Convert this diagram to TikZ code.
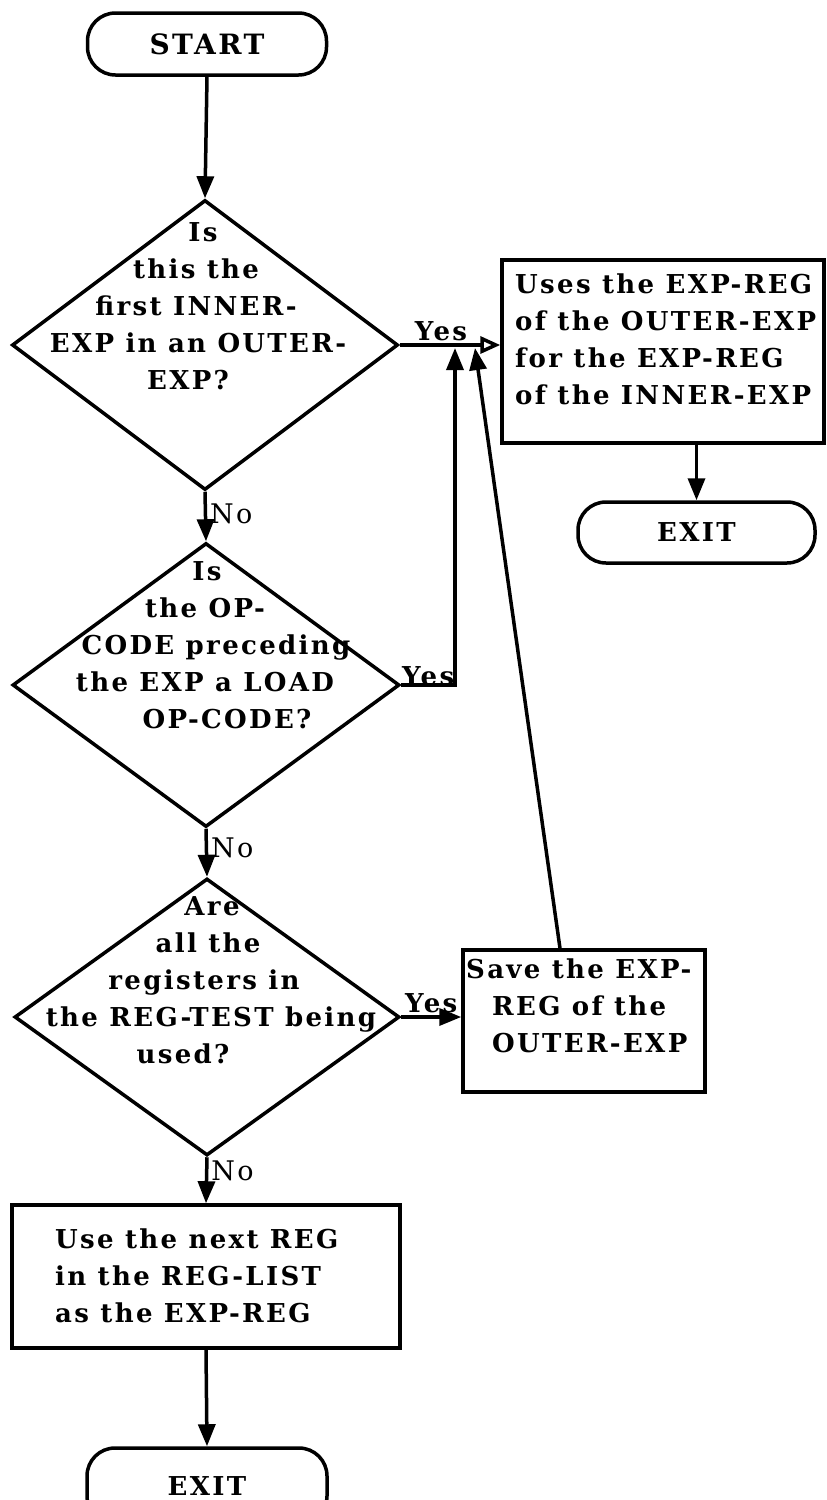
\documentclass[tikz,border=0pt]{standalone}
\usepackage{fontspec}
\setmainfont{DejaVu Serif}[LetterSpace=9]
\usetikzlibrary{arrows.meta,shapes.geometric}
\newcommand{\Rs}[1]{\hspace*{#1pt}}
\begin{document}
\begin{tikzpicture}[x=1pt,y=-1pt,
  every node/.style={font=\fontsize{26}{37}\selectfont\bfseries},
  arr/.style={line width=3.5pt,-{Triangle[length=22pt,width=17pt]}},
  openarr/.style={line width=3.5pt,-{Triangle[open,length=20pt,width=17pt]}},
  term/.style={draw,line width=3.5pt,rounded corners=28pt,inner sep=0pt},
  proc/.style={draw,line width=3.5pt,inner sep=0pt},
  dia/.style={draw,line width=3.5pt,diamond,inner sep=0pt},
  txt/.style={align=center,inner sep=0pt},
  ltxt/.style={align=left,inner sep=0pt,anchor=north west},
  lbl/.style={inner sep=2pt},
  nolbl/.style={inner sep=3pt,font=\fontsize{27}{37}\selectfont\mdseries}
]
\useasboundingbox (0,0) rectangle (827,1500);
\clip (0,0) rectangle (827,1500);

% nodes
\node[term,minimum width=239pt,minimum height=62pt,font=\fontsize{28}{37}\selectfont\bfseries] (start) at (207,44) {START};

\node[dia,minimum width=386pt,minimum height=290pt] (d1) at (205,345) {};
\node[txt] (t1) at (196,306) {\Rs{14}Is\\this the\Rs{16}\\first INNER-\Rs{6}\\\Rs{4}EXP in an OUTER-\\EXP?\Rs{16}};

\node[dia,minimum width=387pt,minimum height=284pt] (d2) at (206,685) {};
\node[txt] (t2) at (205,645) {\Rs{4}Is\\the OP-\Rs{34}\\\Rs{22}CODE preceding\\the EXP a LOAD\Rs{46}\\\Rs{44}OP-CODE?};

\node[dia,minimum width=385pt,minimum height=277pt] (d3) at (207,1017) {};
\node[txt] (t3) at (204,980) {\Rs{16}Are\\\Rs{8}all the\\registers in\Rs{24}\\\Rs{14}the REG-TEST being\\used?\Rs{42}};

\node[proc,minimum width=322pt,minimum height=183pt] (box1) at (663,351.5) {};
\node[ltxt] (bt1) at (515,274) {Uses the EXP-REG\\of the OUTER-EXP\\for the EXP-REG\\of the INNER-EXP};

\node[term,minimum width=237pt,minimum height=61pt] (exit1) at (696.5,532.5) {EXIT};

\node[proc,minimum width=242pt,minimum height=142pt] (save) at (584,1021) {};
\node[ltxt] (st) at (466,959) {Save the EXP-\\\Rs{26}REG of the\\\Rs{26}OUTER-EXP};

\node[proc,minimum width=388pt,minimum height=143pt] (box3) at (206,1276.5) {};
\node[ltxt] (b3t) at (55,1229) {Use the next REG\\in the REG-LIST\\as the EXP-REG};

\node[term,minimum width=240pt,minimum height=76pt] (exit2) at (207,1486) {EXIT};

\coordinate (j2) at (455,348);
\coordinate (j3) at (475,348);

% connectors
\draw[arr] (start.south) -- (d1.north);
\draw[openarr] (d1.east) -- (d1.east -| box1.west) node[lbl,pos=0.41,above] {Yes};
\draw[arr] (d1.south) -- (d2.north) node[nolbl,pos=0.45,right] {No};
\draw[arr] (d2.east) -| (j2) node[lbl,pos=0.25,anchor=base] {Yes};
\draw[arr] (d2.south) -- (d3.north) node[nolbl,pos=0.4,right] {No};
\draw[arr] (d3.east) -- (d3.east -| save.west) node[lbl,pos=0.5,above] {Yes};
\draw[arr] ([xshift=-24pt]save.north) -- (j3);
\draw[arr] (d3.south) -- (box3.north) node[nolbl,pos=0.3,right] {No};
\draw[arr] (box3.south) -- (exit2.north);
\draw[arr] (exit1.north |- box1.south) -- (exit1.north);
\end{tikzpicture}
\end{document}
